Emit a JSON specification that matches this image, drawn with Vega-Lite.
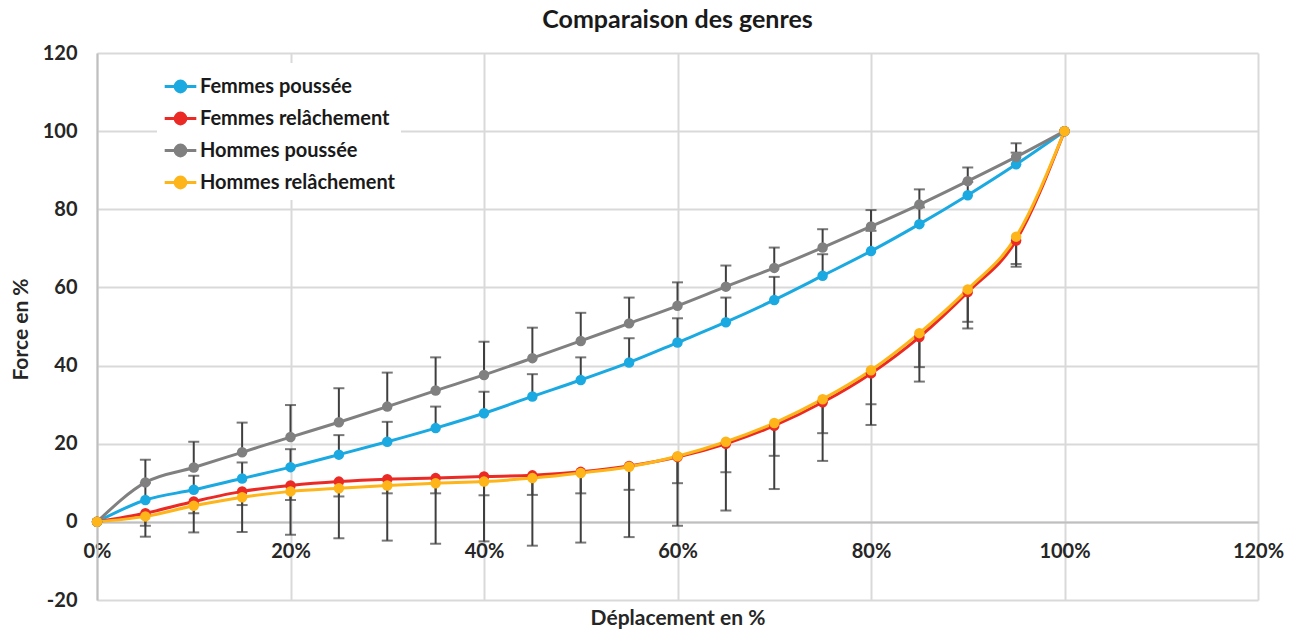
{
  "$schema": "https://vega.github.io/schema/vega-lite/v6.json",
  "autosize": {"type": "none"},
  "width": 1161,
  "height": 547,
  "padding": {"left": 97, "top": 53, "right": 36, "bottom": 33},
  "background": "white",
  "title": {
    "text": "Comparaison des genres",
    "fontSize": 25,
    "fontWeight": "bold",
    "font": "Lato",
    "color": "#1a1a1a",
    "offset": 10,
    "anchor": "middle"
  },
  "config": {
    "font": "Lato",
    "view": {"stroke": null},
    "axis": {
      "grid": true,
      "gridColor": "#d9d9d9",
      "gridWidth": 2,
      "domainColor": "#bfbfbf",
      "domainWidth": 2,
      "ticks": false,
      "tickSize": 0,
      "labelFont": "Lato",
      "labelFontSize": 20,
      "labelFontWeight": "bold",
      "labelColor": "#262626",
      "labelFlush": false,
      "labelOverlap": false,
      "titleFont": "Lato",
      "titleFontSize": 21,
      "titleFontWeight": "bold",
      "titleColor": "#262626"
    }
  },
  "data": {
    "values": [
      {"d": 0.00, "serie": "Femmes poussée", "force": 0, "erreur": null},
      {"d": 0.05, "serie": "Femmes poussée", "force": 5.6, "erreur": 10.0},
      {"d": 0.10, "serie": "Femmes poussée", "force": 8.2, "erreur": 11.8},
      {"d": 0.15, "serie": "Femmes poussée", "force": 11.1, "erreur": 15.2},
      {"d": 0.20, "serie": "Femmes poussée", "force": 14.0, "erreur": 18.6},
      {"d": 0.25, "serie": "Femmes poussée", "force": 17.2, "erreur": 22.2},
      {"d": 0.30, "serie": "Femmes poussée", "force": 20.5, "erreur": 25.6},
      {"d": 0.35, "serie": "Femmes poussée", "force": 24.0, "erreur": 29.5},
      {"d": 0.40, "serie": "Femmes poussée", "force": 27.8, "erreur": 33.3},
      {"d": 0.45, "serie": "Femmes poussée", "force": 32.1, "erreur": 37.8},
      {"d": 0.50, "serie": "Femmes poussée", "force": 36.3, "erreur": 42.1},
      {"d": 0.55, "serie": "Femmes poussée", "force": 40.8, "erreur": 47.0},
      {"d": 0.60, "serie": "Femmes poussée", "force": 45.9, "erreur": 52.1},
      {"d": 0.65, "serie": "Femmes poussée", "force": 51.1, "erreur": 57.4},
      {"d": 0.70, "serie": "Femmes poussée", "force": 56.8, "erreur": 62.7},
      {"d": 0.75, "serie": "Femmes poussée", "force": 63.0, "erreur": 68.5},
      {"d": 0.80, "serie": "Femmes poussée", "force": 69.3, "erreur": 74.5},
      {"d": 0.85, "serie": "Femmes poussée", "force": 76.2, "erreur": 80.5},
      {"d": 0.90, "serie": "Femmes poussée", "force": 83.6, "erreur": 87.0},
      {"d": 0.95, "serie": "Femmes poussée", "force": 91.5, "erreur": 94.5},
      {"d": 1.00, "serie": "Femmes poussée", "force": 100, "erreur": null},

      {"d": 0.00, "serie": "Femmes relâchement", "force": 0, "erreur": null},
      {"d": 0.05, "serie": "Femmes relâchement", "force": 2.2, "erreur": -1.0},
      {"d": 0.10, "serie": "Femmes relâchement", "force": 5.2, "erreur": 2.2},
      {"d": 0.15, "serie": "Femmes relâchement", "force": 7.8, "erreur": 4.3},
      {"d": 0.20, "serie": "Femmes relâchement", "force": 9.3, "erreur": 5.6},
      {"d": 0.25, "serie": "Femmes relâchement", "force": 10.3, "erreur": 6.5},
      {"d": 0.30, "serie": "Femmes relâchement", "force": 10.9, "erreur": 7.3},
      {"d": 0.35, "serie": "Femmes relâchement", "force": 11.2, "erreur": 7.3},
      {"d": 0.40, "serie": "Femmes relâchement", "force": 11.6, "erreur": 6.8},
      {"d": 0.45, "serie": "Femmes relâchement", "force": 11.9, "erreur": 6.9},
      {"d": 0.50, "serie": "Femmes relâchement", "force": 12.8, "erreur": 7.3},
      {"d": 0.55, "serie": "Femmes relâchement", "force": 14.3, "erreur": 8.2},
      {"d": 0.60, "serie": "Femmes relâchement", "force": 16.6, "erreur": 9.9},
      {"d": 0.65, "serie": "Femmes relâchement", "force": 20.0, "erreur": 12.7},
      {"d": 0.70, "serie": "Femmes relâchement", "force": 24.6, "erreur": 16.9},
      {"d": 0.75, "serie": "Femmes relâchement", "force": 30.6, "erreur": 22.7},
      {"d": 0.80, "serie": "Femmes relâchement", "force": 38.0, "erreur": 30.1},
      {"d": 0.85, "serie": "Femmes relâchement", "force": 47.3, "erreur": 39.6},
      {"d": 0.90, "serie": "Femmes relâchement", "force": 58.8, "erreur": 51.2},
      {"d": 0.95, "serie": "Femmes relâchement", "force": 72.0, "erreur": 66.0},
      {"d": 1.00, "serie": "Femmes relâchement", "force": 100, "erreur": null},

      {"d": 0.00, "serie": "Hommes poussée", "force": 0, "erreur": null},
      {"d": 0.05, "serie": "Hommes poussée", "force": 10.1, "erreur": 15.9},
      {"d": 0.10, "serie": "Hommes poussée", "force": 13.9, "erreur": 20.5},
      {"d": 0.15, "serie": "Hommes poussée", "force": 17.8, "erreur": 25.4},
      {"d": 0.20, "serie": "Hommes poussée", "force": 21.7, "erreur": 29.9},
      {"d": 0.25, "serie": "Hommes poussée", "force": 25.5, "erreur": 34.2},
      {"d": 0.30, "serie": "Hommes poussée", "force": 29.5, "erreur": 38.2},
      {"d": 0.35, "serie": "Hommes poussée", "force": 33.6, "erreur": 42.1},
      {"d": 0.40, "serie": "Hommes poussée", "force": 37.6, "erreur": 46.1},
      {"d": 0.45, "serie": "Hommes poussée", "force": 41.9, "erreur": 49.7},
      {"d": 0.50, "serie": "Hommes poussée", "force": 46.3, "erreur": 53.5},
      {"d": 0.55, "serie": "Hommes poussée", "force": 50.8, "erreur": 57.4},
      {"d": 0.60, "serie": "Hommes poussée", "force": 55.3, "erreur": 61.3},
      {"d": 0.65, "serie": "Hommes poussée", "force": 60.2, "erreur": 65.6},
      {"d": 0.70, "serie": "Hommes poussée", "force": 65.0, "erreur": 70.2},
      {"d": 0.75, "serie": "Hommes poussée", "force": 70.2, "erreur": 74.9},
      {"d": 0.80, "serie": "Hommes poussée", "force": 75.6, "erreur": 79.8},
      {"d": 0.85, "serie": "Hommes poussée", "force": 81.2, "erreur": 85.1},
      {"d": 0.90, "serie": "Hommes poussée", "force": 87.2, "erreur": 90.7},
      {"d": 0.95, "serie": "Hommes poussée", "force": 93.4, "erreur": 96.9},
      {"d": 1.00, "serie": "Hommes poussée", "force": 100, "erreur": null},

      {"d": 0.00, "serie": "Hommes relâchement", "force": 0, "erreur": null},
      {"d": 0.05, "serie": "Hommes relâchement", "force": 1.4, "erreur": -3.8},
      {"d": 0.10, "serie": "Hommes relâchement", "force": 4.1, "erreur": -2.7},
      {"d": 0.15, "serie": "Hommes relâchement", "force": 6.3, "erreur": -2.6},
      {"d": 0.20, "serie": "Hommes relâchement", "force": 7.8, "erreur": -3.3},
      {"d": 0.25, "serie": "Hommes relâchement", "force": 8.6, "erreur": -4.2},
      {"d": 0.30, "serie": "Hommes relâchement", "force": 9.3, "erreur": -4.8},
      {"d": 0.35, "serie": "Hommes relâchement", "force": 9.9, "erreur": -5.6},
      {"d": 0.40, "serie": "Hommes relâchement", "force": 10.3, "erreur": -5.0},
      {"d": 0.45, "serie": "Hommes relâchement", "force": 11.2, "erreur": -6.1},
      {"d": 0.50, "serie": "Hommes relâchement", "force": 12.5, "erreur": -5.3},
      {"d": 0.55, "serie": "Hommes relâchement", "force": 14.1, "erreur": -3.9},
      {"d": 0.60, "serie": "Hommes relâchement", "force": 16.8, "erreur": -1.0},
      {"d": 0.65, "serie": "Hommes relâchement", "force": 20.5, "erreur": 2.9},
      {"d": 0.70, "serie": "Hommes relâchement", "force": 25.3, "erreur": 8.4},
      {"d": 0.75, "serie": "Hommes relâchement", "force": 31.4, "erreur": 15.6},
      {"d": 0.80, "serie": "Hommes relâchement", "force": 38.8, "erreur": 24.8},
      {"d": 0.85, "serie": "Hommes relâchement", "force": 48.3, "erreur": 35.9},
      {"d": 0.90, "serie": "Hommes relâchement", "force": 59.5, "erreur": 49.5},
      {"d": 0.95, "serie": "Hommes relâchement", "force": 73.0, "erreur": 65.3},
      {"d": 1.00, "serie": "Hommes relâchement", "force": 100, "erreur": null}
    ]
  },
  "encoding": {
    "x": {
      "field": "d",
      "type": "quantitative",
      "scale": {"domain": [0, 1.2], "nice": false},
      "axis": {
        "values": [0, 0.2, 0.4, 0.6, 0.8, 1.0, 1.2],
        "format": ".0%",
        "offset": -78,
        "labelPadding": 19,
        "title": "Déplacement en %",
        "titleY": 85,
        "titleBaseline": "top"
      }
    },
    "y": {
      "field": "force",
      "type": "quantitative",
      "scale": {"domain": [-20, 120], "nice": false},
      "axis": {
        "values": [-20, 0, 20, 40, 60, 80, 100, 120],
        "labelExpr": "toString(datum.value)",
        "labelPadding": 20,
        "title": "Force en %",
        "titleX": -76,
        "titleY": 276,
        "titleBaseline": "middle",
        "titleAngle": -90
      }
    }
  },
  "layer": [
    {
      "transform": [{"filter": "datum.erreur != null"}],
      "mark": {"type": "rule", "color": "#3f3f3f", "strokeWidth": 2},
      "encoding": {"y2": {"field": "erreur"}}
    },
    {
      "transform": [{"filter": "datum.erreur != null"}],
      "mark": {"type": "tick", "orient": "horizontal", "color": "#3f3f3f", "size": 11, "thickness": 2},
      "encoding": {"y": {"field": "erreur", "type": "quantitative"}}
    },
    {
      "mark": {"type": "line", "interpolate": "monotone", "strokeWidth": 3},
      "encoding": {
        "color": {
          "field": "serie",
          "type": "nominal",
          "scale": {
            "domain": ["Femmes poussée", "Femmes relâchement", "Hommes poussée", "Hommes relâchement"],
            "range": ["#1ba9e1", "#ec2a25", "#808080", "#fdb519"]
          },
          "legend": {
            "orient": "none",
            "legendX": 60,
            "legendY": 10,
            "padding": 6,
            "fillColor": "white",
            "title": null,
            "symbolType": "M-1,0H1M0.34,0A0.34,0.34,0,1,1,-0.34,0A0.34,0.34,0,1,1,0.34,0Z",
            "symbolSize": 1000,
            "symbolStrokeWidth": 3,
            "labelFont": "Lato",
            "labelFontSize": 20,
            "labelFontWeight": "bold",
            "labelColor": "#1a1a1a",
            "labelOffset": 2,
            "labelLimit": 0,
            "rowPadding": 3,
            "encode": {
              "symbols": {
                "update": {
                  "fill": {"scale": "color", "field": "value"},
                  "stroke": {"scale": "color", "field": "value"},
                  "opacity": {"value": 1}
                }
              }
            }
          }
        }
      }
    },
    {
      "mark": {"type": "point", "filled": true, "size": 110, "opacity": 1},
      "encoding": {
        "color": {"field": "serie", "type": "nominal"}
      }
    }
  ]
}
